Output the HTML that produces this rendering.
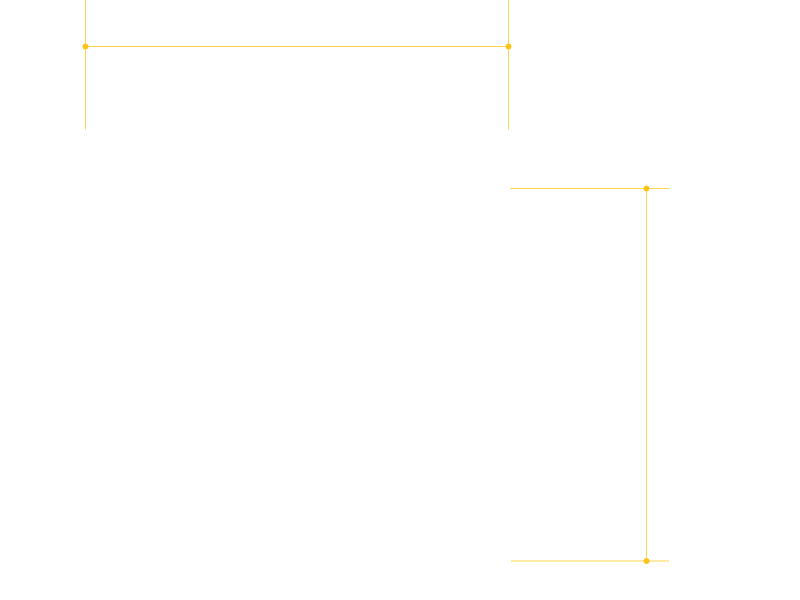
<!DOCTYPE html>
<html>
<head>
<meta charset="utf-8">
<style>
  html, body { margin: 0; padding: 0; background: #ffffff; }
  body { width: 800px; height: 600px; overflow: hidden; }
  svg { display: block; }
</style>
</head>
<body>
<svg width="800" height="600" viewBox="0 0 800 600" xmlns="http://www.w3.org/2000/svg">
  <g stroke="#ffd54f" stroke-width="1" fill="none">
    <!-- top bracket -->
    <line x1="85.5" y1="0" x2="85.5" y2="129.5"/>
    <line x1="508.5" y1="0" x2="508.5" y2="129.5"/>
    <line x1="85.5" y1="46.5" x2="508.5" y2="46.5"/>
    <!-- right bracket -->
    <line x1="510" y1="188.5" x2="669" y2="188.5"/>
    <line x1="511" y1="561" x2="669" y2="561"/>
    <line x1="646.5" y1="188.5" x2="646.5" y2="561"/>
  </g>
  <g fill="#fcc419">
    <circle cx="85.5" cy="46.5" r="3"/>
    <circle cx="508.5" cy="46.5" r="3"/>
    <circle cx="646.5" cy="188.5" r="3"/>
    <circle cx="646.5" cy="561" r="3"/>
  </g>
</svg>
</body>
</html>
